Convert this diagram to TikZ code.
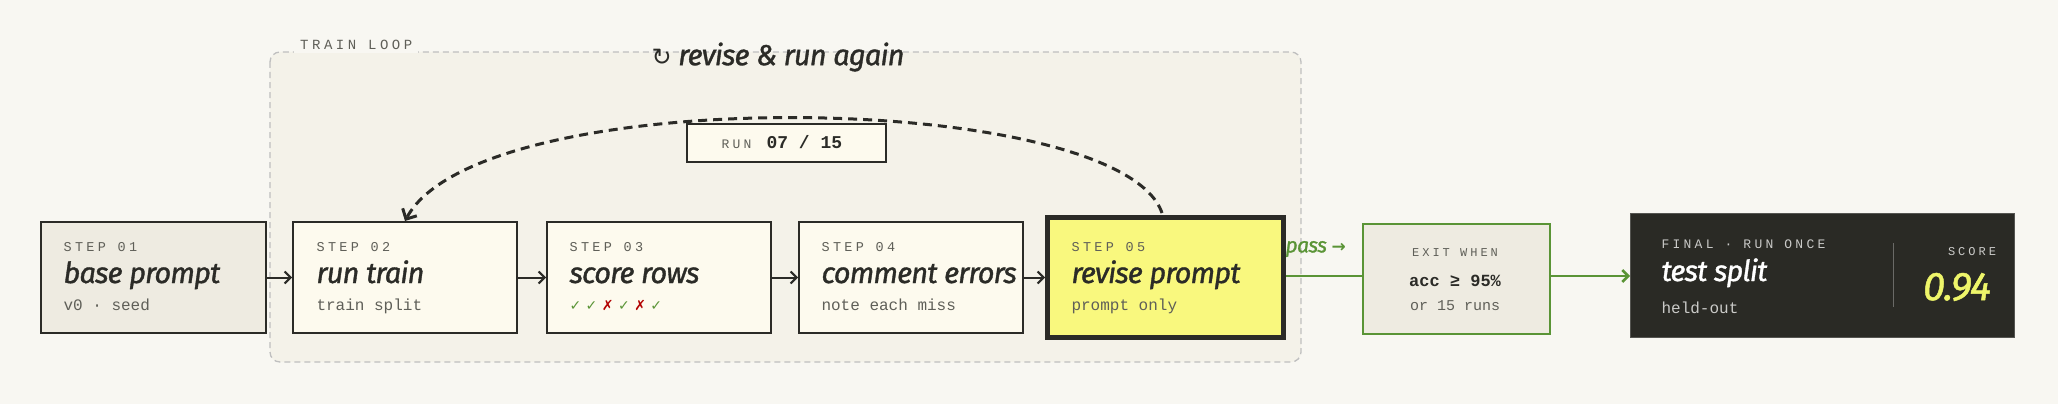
\documentclass[tikz,border=0pt]{standalone}
\usepackage{fontspec}
\setmainfont{Fira Sans}
\newfontfamily\ttlf[LetterSpace=-3,FakeBold=1.2]{Fira Sans}
\newfontfamily\monof[LetterSpace=25]{Liberation Mono}
\newfontfamily\monop{Liberation Mono}
\newfontfamily\symf{DejaVu Sans}
\usetikzlibrary{arrows.meta}
\definecolor{bgc}{HTML}{F8F7F2}
\definecolor{loopc}{HTML}{F4F2E9}
\definecolor{stepc}{HTML}{FDFAEE}
\definecolor{basec}{HTML}{EEEBE1}
\definecolor{inkc}{HTML}{2B2B27}
\definecolor{grayc}{HTML}{5F5F58}
\definecolor{greenc}{HTML}{5A9436}
\definecolor{yelc}{HTML}{F9F87E}
\definecolor{darkc}{HTML}{2A2A25}
\definecolor{scorec}{HTML}{EEF56A}
\tikzset{
  box/.style={draw=inkc,line width=2pt,fill=stepc},
  lab/.style={anchor=base west,text=grayc,font=\monof\fontsize{13.5}{13}\selectfont},
  ttl/.style={anchor=base west,text=inkc,font=\ttlf\itshape\fontsize{29}{29}\selectfont},
  sub/.style={anchor=base west,text=grayc,font=\monop\fontsize{16}{16}\selectfont},
  flow/.style={draw=inkc,line width=2pt,-{Straight Barb[length=6pt,width=12pt]}},
  gflow/.style={draw=greenc,line width=2.5pt,-{Straight Barb[length=6pt,width=12pt]}},
}
\begin{document}
\begin{tikzpicture}[x=1pt,y=-1pt]
\fill[bgc] (0,0) rectangle (2058,404);
\useasboundingbox (0,0) rectangle (2058,404);
% train loop
\draw[draw=black!25,line width=1.3pt,dash pattern=on 6pt off 4pt,fill=loopc,rounded corners=10pt] (270,52) rectangle (1301,362);
\node[anchor=west,fill=bgc,inner xsep=6pt,inner ysep=3pt,text=grayc,font=\monof\fontsize{14}{14}\selectfont] (tl) at (294,45) {TRAIN LOOP};
\node[anchor=west,text=inkc,font=\ttlf\itshape\fontsize{29}{29}\selectfont] (rev) at (648,57) {{\symf\upshape\fontsize{24}{24}\selectfont ↻} revise \& run again};
% steps
\node[box,fill=basec,minimum width=225pt,minimum height=111pt,anchor=north west] (s1) at (40,221) {};
\node[box,minimum width=224pt,minimum height=111pt,anchor=north west] (s2) at (292,221) {};
\node[box,minimum width=224pt,minimum height=111pt,anchor=north west] (s3) at (546,221) {};
\node[box,minimum width=224pt,minimum height=111pt,anchor=north west] (s4) at (798,221) {};
\node[draw=inkc,line width=5pt,fill=yelc,minimum width=236pt,minimum height=120pt,anchor=north west] (s5) at (1045,215) {};
\foreach \n/\x/\a/\b/\c in {s1/60/01/base prompt/v0 · seed, s2/313/02/run train/train split, s4/818/04/comment errors/note each miss, s5/1068/05/revise prompt/prompt only}{
  \node[lab] (\n l) at (\x,251) {STEP \a};
  \node[ttl] (\n t) at (\x,283) {\b};
  \node[sub] (\n s) at (\x,310) {\c};
}
\node[lab] (s3l) at (566,251) {STEP 03};
\node[ttl] (s3t) at (566,283) {score rows};
\node[anchor=base west,font=\symf\fontsize{14}{14}\selectfont] (s3s) at (566,310) {\textcolor{greenc}{✓ ✓} \textcolor{red!70!black}{✗} \textcolor{greenc}{✓} \textcolor{red!70!black}{✗} \textcolor{greenc}{✓}};
\draw[flow] (s1.east) -- (s2.west);
\draw[flow] (s2.east) -- (s3.west);
\draw[flow] (s3.east) -- (s4.west);
\draw[flow] (s4.east) -- (s5.west);
% run counter
\node[draw=inkc,line width=1.8pt,fill=stepc,minimum width=199pt,minimum height=38pt,anchor=north west] (run) at (686,123) {};
\node[text=grayc,font=\monof\fontsize{13}{13}\selectfont,anchor=base west] (runa) at (718,148) {RUN};
\node[text=inkc,font=\monop\bfseries\fontsize{18}{18}\selectfont,anchor=base west] (runb) at (763,148) {07 / 15};
% loop back arc
\coordinate (arcs) at (1162,213);
\draw[inkc,line width=3pt,dash pattern=on 9pt off 6pt,-{Straight Barb[length=8pt,width=16pt]}] (arcs) .. controls (1120,90) and (480,80) .. (s2.north -| 405,0);
% exit
\node[draw=greenc,line width=2pt,fill=basec,minimum width=187pt,minimum height=110pt,anchor=north west] (ex) at (1362,223) {};
\node[text=grayc,font=\monof\fontsize{12}{12}\selectfont] (exa) at (1455,253) {EXIT WHEN};
\node[text=inkc,font=\monop\bfseries\fontsize{17}{17}\selectfont] (exb) at (1455,281) {acc ≥ 95\%};
\node[text=grayc,font=\monop\fontsize{15}{15}\selectfont] (exc) at (1455,306) {or 15 runs};
\draw[greenc,line width=2.5pt] (s5.east |- 0,276) -- (ex.west |- 0,276);
\node[text=greenc,font=\ttlf\itshape\fontsize{21}{21}\selectfont,anchor=west] (pass) at (1282,249) {pass {\symf\upshape\bfseries\fontsize{17}{17}\selectfont →}};
% final
\node[fill=darkc,draw=darkc!80!white,minimum width=384pt,minimum height=124pt,anchor=north west] (fin) at (1630,213) {};
\draw[gflow] (ex.east |- 0,276) -- (fin.west |- 0,276);
\draw[white!30!darkc,line width=1pt] (1893,243) -- (1893,307);
\node[anchor=base west,text=white!75!darkc,font=\monof\fontsize{13}{13}\selectfont] (fa) at (1658,248) {FINAL · RUN ONCE};
\node[anchor=base west,text=white,font=\ttlf\itshape\fontsize{29}{29}\selectfont] (fb) at (1658,281) {test split};
\node[anchor=base west,text=white!75!darkc,font=\monop\fontsize{16}{16}\selectfont] (fc) at (1658,313) {held-out};
\node[text=white!75!darkc,font=\monof\fontsize{12}{12}\selectfont] (sa) at (1972,252) {SCORE};
\node[text=scorec,font=\ttlf\itshape\fontsize{40}{40}\selectfont] (sb) at (1957,287) {0.94};
\end{tikzpicture}
\end{document}
